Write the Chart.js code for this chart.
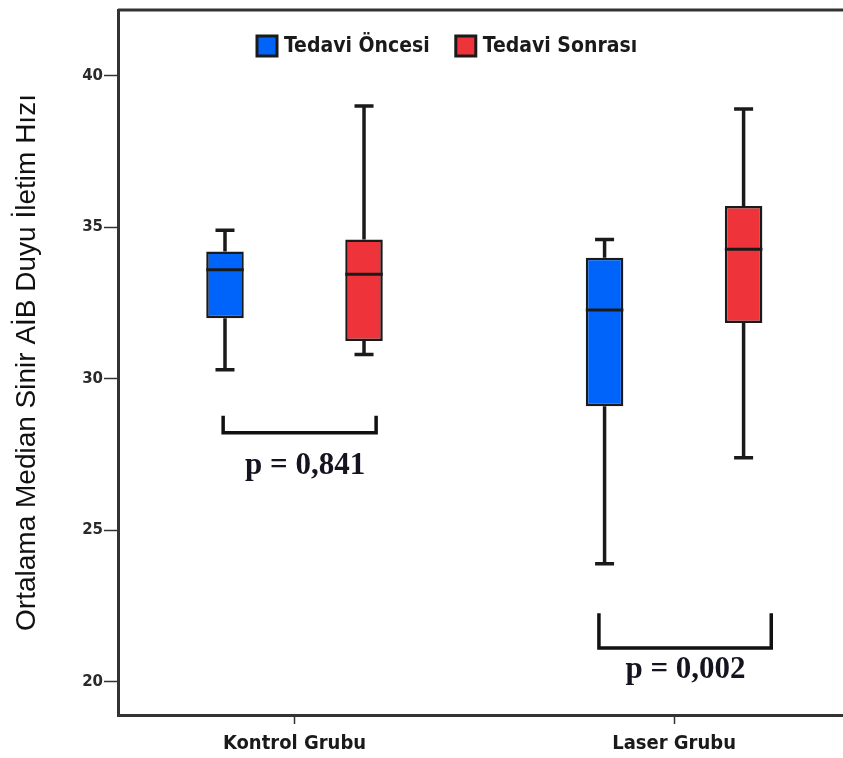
<!DOCTYPE html>
<html>
<head>
<meta charset="utf-8">
<script src="https://cdn.jsdelivr.net/npm/chart.js@4.4.0/dist/chart.umd.min.js"></script>
<style>
  html, body { margin: 0; padding: 0; background: #fff; overflow: hidden; }
  #wrap { width: 843px; height: 758px; }
</style>
</head>
<body>
<div id="wrap"><canvas id="boxChart" width="843" height="758"></canvas></div>
<script>
// gruplar ve seriler
const groups = ['Kontrol Grubu', 'Laser Grubu'];
const seriesNames = ['Tedavi Öncesi', 'Tedavi Sonrası'];
const seriesColors = ['#0064fa', '#ef333b'];
const yTicks = [20, 25, 30, 35, 40];

// her grup için kutu değerleri (min, Q1, medyan, Q3, max)
const oncesiMin = [30.3, 23.9];
const oncesiQ1 = [32.0, 29.1];
const oncesiMed = [33.6, 32.27];
const oncesiQ3 = [34.2, 34.0];
const oncesiMax = [34.9, 34.6];

const sonrasiMin = [30.8, 27.4];
const sonrasiQ1 = [31.25, 31.84];
const sonrasiMed = [33.45, 34.28];
const sonrasiQ3 = [34.6, 35.7];
const sonrasiMax = [39.0, 38.9];

// p değerleri ve köşeli parantezler (veri koordinatında)
const pLabels = ['p = 0,841', 'p = 0,002'];
const bracketX1 = [0.812, 1.802];
const bracketX2 = [1.215, 2.256];
const bracketTop = [28.78, 22.27];
const bracketBottom = [28.22, 21.12];
const pTextX = [1.028, 2.03];
const pTextY = [27.14, 20.4];

const stats = [
  { min: oncesiMin, q1: oncesiQ1, med: oncesiMed, q3: oncesiQ3, max: oncesiMax },
  { min: sonrasiMin, q1: sonrasiQ1, med: sonrasiMed, q3: sonrasiQ3, max: sonrasiMax }
];

const narrowBold = "'Liberation Sans Narrow', 'DejaVu Sans Condensed', 'Arial Narrow', sans-serif";
const lineColor = '#1a1a1a';

// bıyıklar, medyanlar, parantezler ve lejant
const boxPlugin = {
  id: 'boxWhiskers',
  beforeDatasetsDraw(chart) {
    const ctx = chart.ctx;
    const y = chart.scales.y;
    ctx.save();
    ctx.strokeStyle = lineColor;
    ctx.lineWidth = 3.5;
    stats.forEach((s, di) => {
      const meta = chart.getDatasetMeta(di);
      meta.data.forEach((bar, i) => {
        const x = bar.x;
        const capHalf = 9.5;
        ctx.beginPath();
        ctx.moveTo(x, y.getPixelForValue(s.max[i]));
        ctx.lineTo(x, y.getPixelForValue(s.q3[i]));
        ctx.moveTo(x, y.getPixelForValue(s.q1[i]));
        ctx.lineTo(x, y.getPixelForValue(s.min[i]));
        ctx.moveTo(x - capHalf, y.getPixelForValue(s.max[i]));
        ctx.lineTo(x + capHalf, y.getPixelForValue(s.max[i]));
        ctx.moveTo(x - capHalf, y.getPixelForValue(s.min[i]));
        ctx.lineTo(x + capHalf, y.getPixelForValue(s.min[i]));
        ctx.stroke();
      });
    });
    ctx.restore();
  },
  afterDatasetsDraw(chart) {
    const ctx = chart.ctx;
    const xs = chart.scales.x;
    const y = chart.scales.y;
    const area = chart.chartArea;
    ctx.save();

    // medyan çizgileri
    ctx.strokeStyle = lineColor;
    ctx.lineWidth = 3;
    stats.forEach((s, di) => {
      const meta = chart.getDatasetMeta(di);
      meta.data.forEach((bar, i) => {
        const py = y.getPixelForValue(s.med[i]);
        ctx.beginPath();
        ctx.moveTo(bar.x - bar.width / 2, py);
        ctx.lineTo(bar.x + bar.width / 2, py);
        ctx.stroke();
      });
    });

    // köşeli parantezler
    ctx.lineWidth = 3.5;
    ctx.strokeStyle = '#111';
    pLabels.forEach((lbl, i) => {
      const x1 = xs.getPixelForValue(bracketX1[i]);
      const x2 = xs.getPixelForValue(bracketX2[i]);
      const yt = y.getPixelForValue(bracketTop[i]);
      const yb = y.getPixelForValue(bracketBottom[i]);
      ctx.beginPath();
      ctx.moveTo(x1, yt);
      ctx.lineTo(x1, yb);
      ctx.lineTo(x2, yb);
      ctx.lineTo(x2, yt);
      ctx.stroke();
      ctx.fillStyle = '#141420';
      ctx.font = "bold 31px 'Liberation Serif', 'DejaVu Serif', serif";
      ctx.textAlign = 'center';
      ctx.textBaseline = 'middle';
      ctx.fillText(lbl, xs.getPixelForValue(pTextX[i]), y.getPixelForValue(pTextY[i]));
    });

    // lejant
    ctx.font = 'bold 21px ' + narrowBold;
    ctx.textAlign = 'left';
    ctx.textBaseline = 'middle';
    let lx = 257;
    const ly = 46;
    chart.data.datasets.forEach((ds) => {
      ctx.fillStyle = ds.backgroundColor;
      ctx.fillRect(lx, ly - 10, 20, 20);
      ctx.lineWidth = 3;
      ctx.strokeStyle = lineColor;
      ctx.strokeRect(lx, ly - 10, 20, 20);
      ctx.fillStyle = '#1a1a1a';
      ctx.fillText(ds.label, lx + 27, ly + 1);
      lx += 27 + ctx.measureText(ds.label).width + 26;
    });

    // üst çerçeve
    ctx.strokeStyle = '#333';
    ctx.lineWidth = 3;
    ctx.beginPath();
    ctx.moveTo(area.left, area.top);
    ctx.lineTo(area.right, area.top);
    ctx.stroke();
    ctx.restore();
  }
};

const datasets = stats.map((s, di) => ({
  label: seriesNames[di],
  data: groups.map((g, i) => ({ x: i + 1, y: [s.q1[i], s.q3[i]] })),
  backgroundColor: seriesColors[di],
  borderColor: lineColor,
  borderWidth: 2.5,
  borderSkipped: false,
  categoryPercentage: 0.7325,
  barPercentage: 0.27
}));

new Chart(document.getElementById('boxChart'), {
  type: 'bar',
  data: { datasets: datasets },
  plugins: [boxPlugin],
  options: {
    responsive: false,
    animation: false,
    devicePixelRatio: 1,
    layout: { padding: { top: 8, left: 0, right: 0, bottom: 0 } },
    plugins: {
      legend: { display: false },
      tooltip: { enabled: false }
    },
    scales: {
      x: {
        type: 'linear',
        offset: false,
        min: 0.535,
        max: 2.445,
        afterBuildTicks(scale) {
          scale.ticks = groups.map((g, i) => ({ value: i + 1 }));
        },
        afterFit(scale) { scale.height = 43; },
        ticks: {
          callback: (v) => groups[Math.round(v) - 1],
          font: { family: narrowBold, size: 20, weight: 'bold' },
          color: '#1a1a1a',
          padding: 8,
          maxRotation: 0,
          autoSkip: false
        },
        grid: { offset: false, drawOnChartArea: false, tickLength: 9, tickWidth: 1.5, tickColor: '#333' },
        border: { color: '#333', width: 3 }
      },
      y: {
        min: 18.91,
        max: 42.17,
        afterBuildTicks(scale) {
          scale.ticks = yTicks.map(v => ({ value: v }));
        },
        afterFit(scale) { scale.width = 118; },
        ticks: {
          font: { family: "'DejaVu Sans', sans-serif", size: 15, weight: 'bold' },
          color: '#2a2a2a',
          padding: 1
        },
        grid: { drawOnChartArea: false, tickLength: 14, tickWidth: 1.5, tickColor: '#333' },
        border: { color: '#333', width: 3 },
        title: {
          display: true,
          text: 'Ortalama Median Sinir AİB Duyu İletim Hızı',
          font: { family: "'Liberation Sans', Arial, sans-serif", size: 28 },
          color: '#111',
          padding: { top: 10, bottom: 0 }
        }
      }
    }
  }
});
</script>
</body>
</html>
